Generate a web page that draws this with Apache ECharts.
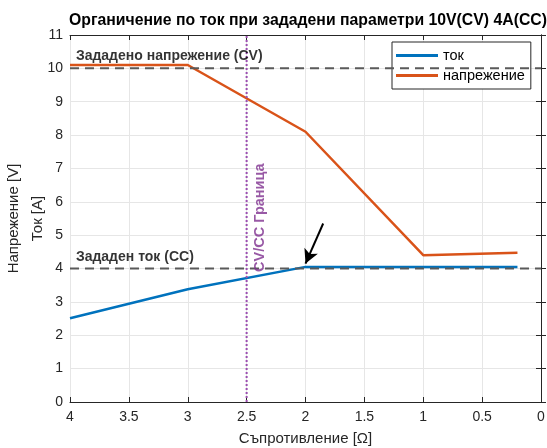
<!DOCTYPE html>
<html><head><meta charset="utf-8">
<script src="https://cdn.jsdelivr.net/npm/echarts@6/dist/echarts.min.js"></script>
<style>html,body{margin:0;padding:0;background:#fff}#c{width:547px;height:448px}</style>
</head><body><div id="c"></div>
<script>
const xValues = [4, 3, 2, 1, 0.2];
const currentA = [2.51, 3.38, 4.05, 4.05, 4.05];
const voltageV = [10.1, 10.1, 8.1, 4.4, 4.47];
const setVoltage = 10;
const setCurrent = 4;
const boundaryX = 2.5;
const arrowFrom = [1.85, 5.35];
const arrowTo = [2.0, 4.15];
const xTicks = [4, 3.5, 3, 2.5, 2, 1.5, 1, 0.5, 0];
const yTicks = [0,1,2,3,4,5,6,7,8,9,10,11];
const labels = {
  title: 'Органичение по ток при зададени параметри 10V(CV) 4A(CC)',
  xName: 'Съпротивление [Ω]',
  yName: 'Напрежение [V]\nТок [A]',
  cur: 'ток', volt: 'напрежение',
  cv: 'Зададено напрежение (CV)', cc: 'Зададен ток (CC)', border: 'CV/CC Граница'
};
const cvLabelPos = [3.95, 10.38];
const ccLabelPos = [3.95, 4.33];
const borderLabelPos = [2.385, 3.9];

const FONT = '"Liberation Sans", Arial, Helvetica, sans-serif';
const AX = '#262626';
const chart = echarts.init(document.getElementById('c'), null, {renderer:'canvas'});
const pair = (xs, ys) => xs.map((x,i)=>[x, ys[i]]);
const axisCommon = {
  type:'value', min:0, max:4, interval:0.5, inverse:true
};
chart.setOption({
  animation:false,
  backgroundColor:'#fff',
  title:{text:labels.title, left:303, top:8, textAlign:'center',
    textStyle:{fontFamily:FONT, fontSize:15.8, fontWeight:'bold', color:'#000'}},
  grid:{left:70, right:6, top:35, bottom:46, containLabel:false, outerBoundsMode:'none'},
  legend:{orient:'vertical', left:392, top:42, width:130,
    backgroundColor:'#fff', borderColor:AX, borderWidth:1,
    padding:[6,6,6,4], itemGap:5, itemWidth:42, itemHeight:3, icon:'rect',
    data:[labels.cur, labels.volt],
    textStyle:{fontFamily:FONT, fontSize:14.5, color:'#000'}},
  xAxis:[
    Object.assign({}, axisCommon, {position:'bottom',
      name:labels.xName, nameLocation:'middle', nameGap:29,
      nameTextStyle:{fontFamily:FONT, fontSize:15, color:AX},
      axisLine:{show:true, lineStyle:{color:AX, width:1}},
      axisTick:{show:true, inside:true, length:5, lineStyle:{color:AX}},
      axisLabel:{show:true, fontFamily:FONT, fontSize:14, color:AX, margin:8,
        formatter:v=> xTicks.indexOf(v)>=0 ? String(v) : ''},
      splitLine:{show:true, lineStyle:{color:'#e6e6e6', width:1}}}),
    Object.assign({}, axisCommon, {position:'top',
      axisLine:{show:true, onZero:false, lineStyle:{color:AX, width:1}},
      axisTick:{show:true, inside:true, length:5, lineStyle:{color:AX}},
      axisLabel:{show:false}, splitLine:{show:false}})
  ],
  yAxis:[
    {type:'value', min:0, max:11, interval:1, position:'left',
      name:labels.yName, nameLocation:'middle', nameGap:20, nameRotate:90,
      nameMoveOverlap:false,
      nameTextStyle:{fontFamily:FONT, fontSize:15, color:AX, lineHeight:24},
      axisLine:{show:true, lineStyle:{color:AX, width:1}},
      axisTick:{show:true, inside:true, length:5, lineStyle:{color:AX}},
      axisLabel:{fontFamily:FONT, fontSize:14, color:AX, margin:7,
        formatter:v=> yTicks.indexOf(v)>=0 ? String(v) : ''},
      splitLine:{show:true, lineStyle:{color:'#e6e6e6', width:1}}},
    {type:'value', min:0, max:11, interval:1, position:'right',
      axisLine:{show:true, onZero:false, lineStyle:{color:AX, width:1}},
      axisTick:{show:true, inside:true, length:5, lineStyle:{color:AX}},
      axisLabel:{show:false}, splitLine:{show:false}}
  ],
  series:[
    {name:labels.cur, type:'line', data:pair(xValues, currentA), symbol:'none',
      lineStyle:{color:'#0072BD', width:2.5}, itemStyle:{color:'#0072BD'}, z:3},
    {name:labels.volt, type:'line', data:pair(xValues, voltageV), symbol:'none',
      lineStyle:{color:'#D95319', width:2.5}, itemStyle:{color:'#D95319'}, z:3},
    {name:'cvline', type:'line', data:[[4,setVoltage],[0,setVoltage]], symbol:'none',
      lineStyle:{color:'#5a5a5a', width:2, type:[9,6]}, z:4, silent:true},
    {name:'ccline', type:'line', data:[[4,setCurrent],[0,setCurrent]], symbol:'none',
      lineStyle:{color:'#5a5a5a', width:2, type:[9,6]}, z:4, silent:true},
    {name:'border', type:'line', data:[[boundaryX,0],[boundaryX,11]], symbol:'none',
      lineStyle:{color:'#9B4FB0', width:2, type:[2,2]}, z:4, silent:true},
    {name:'arrow', type:'line', data:[], silent:true,
      markLine:{silent:true, symbol:['none','arrow'], symbolSize:[11,14],
        lineStyle:{color:'#000', width:2, type:'solid'}, label:{show:false},
        data:[[{coord:arrowFrom},{coord:arrowTo}]]}, z:5},
    {name:'texts', type:'scatter', symbolSize:0, silent:true, z:6,
      data:[
        {value:cvLabelPos, label:{formatter:labels.cv}},
        {value:ccLabelPos, label:{formatter:labels.cc}},
        {value:borderLabelPos, label:{formatter:labels.border, rotate:90, color:'#7E2F8E', fontSize:14.5}}
      ],
      label:{show:true, position:[0,0], align:'left', verticalAlign:'middle',
        fontFamily:FONT, fontSize:14, fontWeight:'bold', color:'#000'}}
  ]
});
</script></body></html>
